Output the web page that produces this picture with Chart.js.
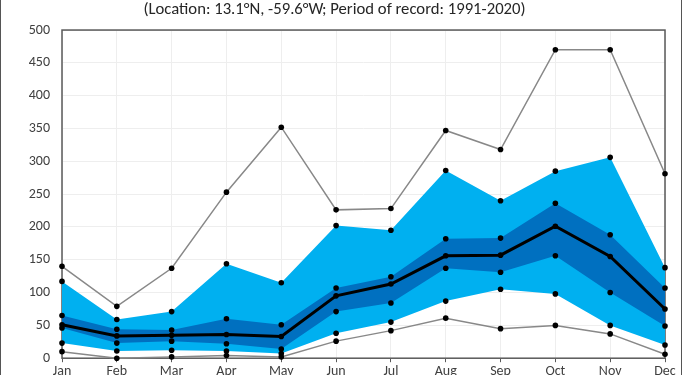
<!DOCTYPE html>
<html>
<head>
<meta charset="utf-8">
<script src="https://cdn.jsdelivr.net/npm/chart.js@4"></script>
<style>
    html, body { margin: 0; padding: 0; background: #ffffff; overflow: hidden; }
    #wrap {
        position: absolute; left: 0; top: 0;
        width: 680px; height: 395px;
        border-left: 1.5px solid #555;
        border-right: 1.5px solid #555;
    }
</style>
</head>
<body>
<div id="wrap"><canvas id="precip-chart" width="680" height="395"></canvas></div>
<script>
// Monthly precipitation percentiles (mm)
const months = ['Jan', 'Feb', 'Mar', 'Apr', 'May', 'Jun', 'Jul', 'Aug', 'Sep', 'Oct', 'Nov', 'Dec'];
const maxValues = [140, 79, 137, 253, 352, 226, 228, 347, 318, 470, 470, 281];
const p90Values = [117, 59, 71, 144, 115, 202, 195, 286, 240, 285, 306, 138];
const p75Values = [65, 44, 43, 60, 51, 107, 124, 182, 183, 236, 188, 107];
const medianValues = [51, 34, 35, 36, 33, 95, 113, 156, 157, 201, 155, 75];
const p25Values = [46, 23, 26, 22, 14, 71, 84, 137, 131, 156, 100, 49];
const p10Values = [23, 11, 12, 11, 7, 38, 55, 87, 105, 98, 50, 20];
const minValues = [10, 0, 2, 4, 2, 26, 42, 61, 45, 50, 37, 6];

const fontFamily = 'Carlito, Lato, sans-serif';
const textColor = '#404040';

function pointStyle(extra) {
    return Object.assign({
        pointRadius: 2.8,
        pointBackgroundColor: '#000',
        pointBorderColor: '#000',
        pointBorderWidth: 0,
        tension: 0,
        clip: false
    }, extra);
}

// draws the box around the plot area
const frame = {
    id: 'frame',
    beforeDatasetsDraw(chart) {
        const a = chart.chartArea;
        const c = chart.ctx;
        c.save();
        c.strokeStyle = '#595959';
        c.lineWidth = 1.5;
        c.strokeRect(a.left, a.top, a.right - a.left, a.bottom - a.top);
        c.restore();
    }
};

new Chart(document.getElementById('precip-chart'), {
    type: 'line',
    data: {
        labels: months,
        datasets: [
            pointStyle({ label: 'Median', data: medianValues, borderColor: '#000', borderWidth: 3, fill: false }),
            pointStyle({ label: '25th', data: p25Values, borderWidth: 0, borderColor: 'rgba(0,0,0,0)', fill: false }),
            pointStyle({ label: '75th', data: p75Values, borderWidth: 0, borderColor: 'rgba(0,0,0,0)', backgroundColor: '#0070c0', fill: '-1' }),
            pointStyle({ label: '10th', data: p10Values, borderWidth: 0, borderColor: 'rgba(0,0,0,0)', fill: false }),
            pointStyle({ label: '90th', data: p90Values, borderWidth: 0, borderColor: 'rgba(0,0,0,0)', backgroundColor: '#00b0f0', fill: '-1' }),
            pointStyle({ label: 'Min', data: minValues, borderColor: '#888888', borderWidth: 1.5, fill: false }),
            pointStyle({ label: 'Max', data: maxValues, borderColor: '#888888', borderWidth: 1.5, fill: false })
        ]
    },
    options: {
        responsive: false,
        animation: false,
        layout: {
            padding: { left: 3, right: 16, top: 0, bottom: 14 }
        },
        plugins: {
            legend: { display: false },
            tooltip: { enabled: false },
            title: {
                display: true,
                text: '(Location: 13.1°N, -59.6°W; Period of record: 1991-2020)',
                color: '#262626',
                font: { family: fontFamily, size: 16.7, weight: 'normal' },
                padding: { top: 0, bottom: 10 }
            }
        },
        scales: {
            x: {
                offset: false,
                grid: { color: '#eeeeee', tickLength: 4, tickColor: '#595959' },
                border: { display: false },
                ticks: { color: textColor, font: { family: fontFamily, size: 14 }, padding: 1 }
            },
            y: {
                min: 0,
                max: 500,
                afterFit(scale) { scale.width = 58; },
                ticks: { stepSize: 50, color: textColor, font: { family: fontFamily, size: 14 }, padding: 12 },
                grid: { color: '#eeeeee', tickLength: 0 },
                border: { display: false }
            }
        }
    },
    plugins: [frame]
});
</script>
</body>
</html>
